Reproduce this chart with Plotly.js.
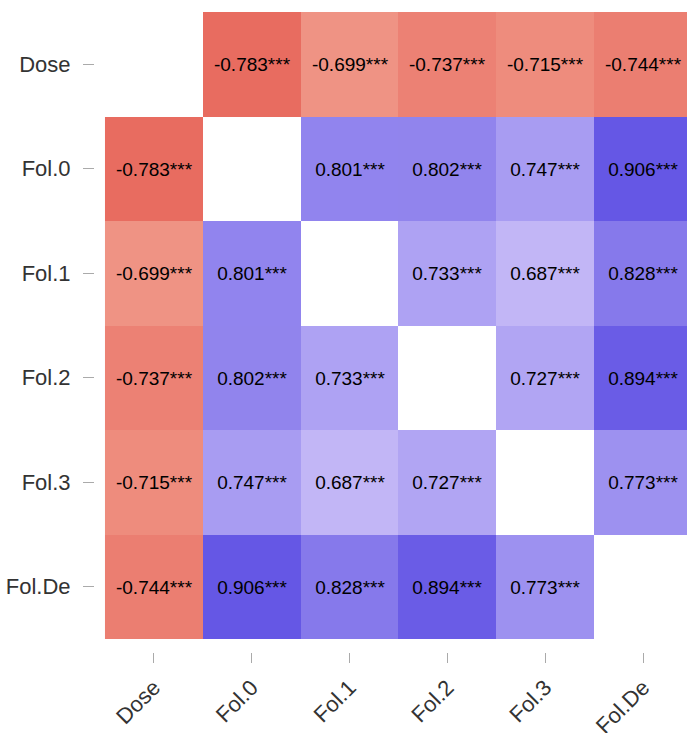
<!DOCTYPE html>
<html>
<head>
<meta charset="utf-8">
<script src="https://cdn.plot.ly/plotly-3.0.1.min.js"></script>
<style>
html,body{margin:0;padding:0;overflow:hidden;background:#fff;}
#chart{width:700px;height:733px;}
</style>
</head>
<body>
<div id="chart"></div>
<script>
// Variables (same order on both axes)
const labels = ["Dose", "Fol.0", "Fol.1", "Fol.2", "Fol.3", "Fol.De"];
// Correlation matrix (diagonal left blank)
const rowDose  = [null, -0.783, -0.699, -0.737, -0.715, -0.744];
const rowFol0  = [-0.783, null, 0.801, 0.802, 0.747, 0.906];
const rowFol1  = [-0.699, 0.801, null, 0.733, 0.687, 0.828];
const rowFol2  = [-0.737, 0.802, 0.733, null, 0.727, 0.894];
const rowFol3  = [-0.715, 0.747, 0.687, 0.727, null, 0.773];
const rowFolDe = [-0.744, 0.906, 0.828, 0.894, 0.773, null];
const stars = "***";

const z = [rowDose, rowFol0, rowFol1, rowFol2, rowFol3, rowFolDe];
const idx = labels.map((_, i) => i);
const text = z.map(r => r.map(v => v === null ? "" : v.toFixed(3) + stars));

const trace = {
  type: "heatmap",
  x: idx, y: idx, z: z,
  text: text,
  texttemplate: "%{text}",
  textfont: {family: "Liberation Sans, Arial, sans-serif", size: 19, color: "#000"},
  zmin: -1, zmax: 1,
  colorscale: [
    [0, "#E7695D"], [0.105, "#E7695D"], [0.155, "#F09788"],
    [0.5, "#FFFFFF"],
    [0.84, "#C5B9F7"], [0.955, "#6355E5"], [1, "#6355E5"]
  ],
  showscale: false,
  hoverongaps: false
};

const tickFont = {family: "Liberation Sans, Arial, sans-serif", size: 22, color: "#333"};
const layout = {
  width: 700, height: 733,
  margin: {l: 95, r: 8, t: 12, b: 81},
  paper_bgcolor: "#fff", plot_bgcolor: "#fff",
  xaxis: {
    range: [-0.602, 5.5],
    tickvals: idx, ticktext: labels,
    tickangle: -45,
    ticks: "outside", ticklen: 10, tickcolor: "#aaa", tickwidth: 1,
    showgrid: false, zeroline: false, showline: false,
    tickfont: tickFont, ticklabelstandoff: 3
  },
  yaxis: {
    range: [5.624, -0.5],
    tickvals: idx, ticktext: labels,
    ticks: "outside", ticklen: 11, tickcolor: "#aaa", tickwidth: 1,
    showgrid: false, zeroline: false, showline: false,
    tickfont: tickFont, ticklabelstandoff: 8
  },
  showlegend: false
};

Plotly.newPlot("chart", [trace], layout, {displayModeBar: false, staticPlot: true});
</script>
</body>
</html>
